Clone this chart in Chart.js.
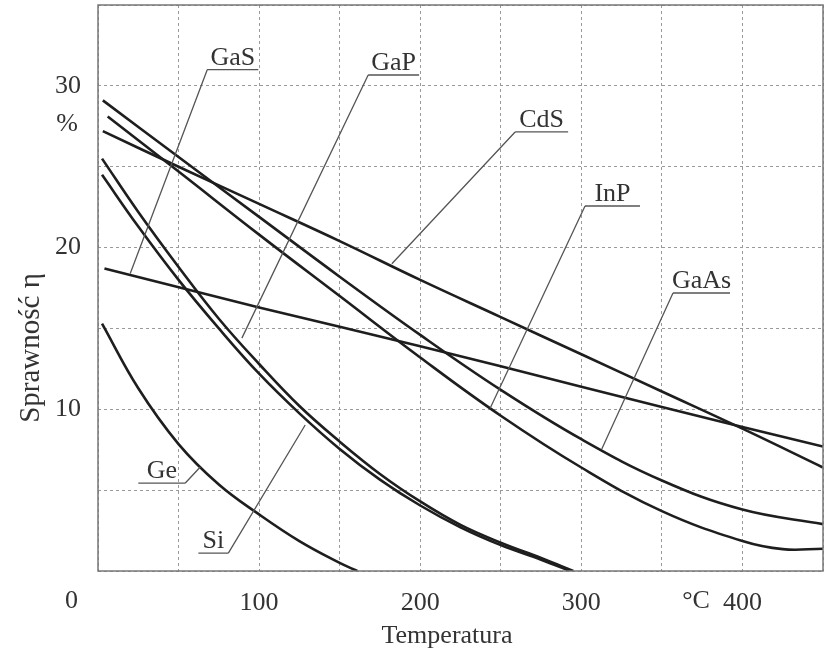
<!DOCTYPE html>
<html>
<head>
<meta charset="utf-8">
<title>Sprawność ogniw w funkcji temperatury</title>
<script src="https://cdn.jsdelivr.net/npm/chart.js@4/dist/chart.umd.min.js"></script>
<style>
  html, body { margin: 0; padding: 0; background: #fff; }
  #wrap { width: 827px; height: 649px; }
  canvas { background: #fff; }
</style>
</head>
<body>
<div id="wrap"><canvas id="eff" width="827" height="649"></canvas></div>
<script>
// values: temperature in °C, efficiency in %
const gaAsTemp = [3, 50, 100, 150, 200, 250, 300, 350, 400, 450];
const gaAsEff  = [29.1, 25.6, 21.9, 18.2, 14.6, 11.2, 8.15, 5.6, 3.8, 2.9];

const inPTemp = [6, 50, 100, 150, 200, 250, 300, 350, 400, 425, 450];
const inPEff  = [28.1, 24.7, 20.8, 17.0, 13.2, 9.6, 6.4, 3.7, 1.85, 1.35, 1.38];

const cdSTemp = [3, 50, 100, 150, 200, 250, 300, 350, 400, 450];
const cdSEff  = [27.2, 25.0, 22.7, 20.4, 18.0, 15.7, 13.4, 11.1, 8.8, 6.4];

const gaSTemp = [4, 100, 200, 300, 400, 450];
const gaSEff  = [18.7, 16.3, 13.9, 11.4, 8.9, 7.7];

const gaPTemp = [2.5, 25, 50, 75, 100, 125, 150, 175, 200, 225, 250, 275, 295];
const gaPEff  = [25.5, 22.2, 18.8, 15.6, 12.8, 10.2, 8.0, 6.0, 4.3, 2.85, 1.75, 0.8, 0];

const siTemp = [2.5, 25, 50, 75, 100, 125, 150, 175, 200, 225, 250, 275, 293];
const siEff  = [24.5, 21.3, 18.0, 15.0, 12.2, 9.75, 7.55, 5.65, 4.05, 2.7, 1.6, 0.7, 0];

const geTemp = [2.5, 25, 50, 75, 100, 125, 150, 161];
const geEff  = [15.3, 11.3, 7.85, 5.35, 3.5, 1.85, 0.5, 0];

const seriesNames = ['GaAs', 'InP', 'CdS', 'GaS', 'GaP', 'Si', 'Ge'];
const seriesTemps = [gaAsTemp, inPTemp, cdSTemp, gaSTemp, gaPTemp, siTemp, geTemp];
const seriesEffs  = [gaAsEff, inPEff, cdSEff, gaSEff, gaPEff, siEff, geEff];

// leader labels: underline from u1 to u2 at height uy, leader from one end to the curve point
const labelNames = ['GaS', 'GaP', 'CdS', 'InP', 'GaAs', 'Ge', 'Si'];
const labelU1 = [67.8, 167.7, 258.9, 302.3, 356.9, 25.0, 62.3];
const labelU2 = [99.5, 199.3, 291.8, 336.4, 392.3, 54.2, 80.9];
const labelUY = [31.0, 30.67, 27.15, 22.57, 17.19, 5.44, 1.11];
const labelToT = [20.0, 89.3, 182.4, 243.4, 312.7, 63.5, 128.6];
const labelToV = [18.4, 14.4, 19.0, 10.06, 7.54, 6.43, 9.03];
const labelFromRight = [false, false, false, false, false, true, true];

const xTitle = 'Temperatura';
const yTitle = 'Sprawność η';

const serif = "'Liberation Serif', 'DejaVu Serif', serif";
const textColor = '#333';

const datasets = seriesNames.map((name, i) => ({
    label: name,
    data: seriesTemps[i].map((t, j) => ({ x: t, y: seriesEffs[i][j] })),
    borderColor: '#1e1e1e',
    borderWidth: 2.6,
    pointRadius: 0,
    fill: false,
    tension: 0.4
}));

const annotations = {
    id: 'annotations',
    afterDraw(chart) {
        const ctx = chart.ctx;
        const xs = chart.scales.x;
        const ys = chart.scales.y;
        const area = chart.chartArea;

        ctx.save();
        ctx.strokeStyle = '#555';
        ctx.lineWidth = 1.3;
        ctx.font = '26px ' + serif;
        ctx.fillStyle = textColor;
        ctx.textAlign = 'center';
        ctx.textBaseline = 'alphabetic';
        for (let i = 0; i < labelNames.length; i++) {
            const x1 = xs.getPixelForValue(labelU1[i]);
            const x2 = xs.getPixelForValue(labelU2[i]);
            const yu = ys.getPixelForValue(labelUY[i]);
            const sx = labelFromRight[i] ? x2 : x1;
            ctx.beginPath();
            ctx.moveTo(x1, yu);
            ctx.lineTo(x2, yu);
            ctx.moveTo(sx, yu);
            ctx.lineTo(xs.getPixelForValue(labelToT[i]), ys.getPixelForValue(labelToV[i]));
            ctx.stroke();
            ctx.fillText(labelNames[i], (x1 + x2) / 2, yu - 5);
        }

        // frame
        ctx.strokeStyle = '#777';
        ctx.lineWidth = 1.5;
        ctx.strokeRect(area.left, area.top, area.right - area.left, area.bottom - area.top);

        // extra axis texts
        ctx.fillStyle = textColor;
        ctx.font = '26px ' + serif;
        ctx.textBaseline = 'middle';
        ctx.textAlign = 'center';
        ctx.fillText('0', 71.5, 601);
        ctx.fillText('%', 67, 124);
        ctx.fillText('°C', 696, 601);

        ctx.textBaseline = 'alphabetic';
        ctx.fillText(xTitle, 447, 643);

        ctx.font = '29px ' + serif;
        ctx.translate(39, 348);
        ctx.rotate(-Math.PI / 2);
        ctx.fillText(yTitle, 0, 0);
        ctx.restore();
    }
};

new Chart(document.getElementById('eff'), {
    type: 'line',
    data: { datasets: datasets },
    options: {
        responsive: false,
        animation: false,
        devicePixelRatio: 1,
        layout: { padding: { top: 5, right: 4, left: 0, bottom: 0 } },
        plugins: {
            legend: { display: false },
            tooltip: { enabled: false }
        },
        scales: {
            x: {
                type: 'linear',
                min: 0,
                max: 450,
                afterFit(scale) {
                    scale.height = 78;
                    scale.paddingLeft = 0;
                    scale.paddingRight = 0;
                },
                ticks: {
                    stepSize: 50,
                    autoSkip: false,
                    maxRotation: 0,
                    padding: 17,
                    color: textColor,
                    font: { family: serif, size: 26 },
                    callback: (v) => (v % 100 === 0 && v > 0) ? v : ''
                },
                grid: { color: '#9a9a9a', lineWidth: 1, drawTicks: false },
                border: { display: false, dash: [3, 3] }
            },
            y: {
                min: 0,
                max: 35,
                afterFit(scale) {
                    scale.width = 98;
                    scale.paddingTop = 0;
                    scale.paddingBottom = 0;
                },
                ticks: {
                    stepSize: 5,
                    autoSkip: false,
                    padding: 17,
                    color: textColor,
                    font: { family: serif, size: 26 },
                    callback: (v) => (v % 10 === 0 && v > 0) ? v : ''
                },
                grid: { color: '#9a9a9a', lineWidth: 1, drawTicks: false },
                border: { display: false, dash: [3, 3] }
            }
        }
    },
    plugins: [annotations]
});
</script>
</body>
</html>
